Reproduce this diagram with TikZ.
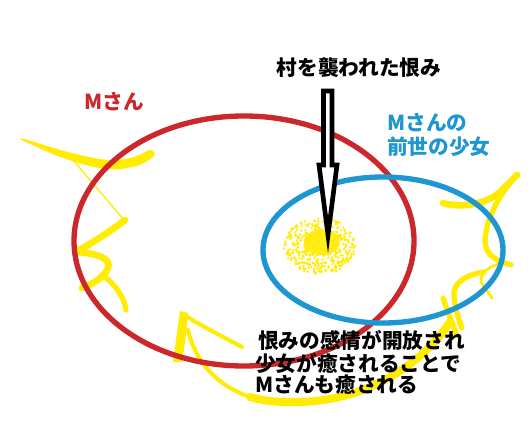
\documentclass[tikz,border=0pt]{standalone}
\usepackage{fontspec}
\setmainfont{Noto Sans CJK JP}
\definecolor{myred}{RGB}{204,40,44}
\definecolor{myblue}{RGB}{30,150,210}
\definecolor{yel}{RGB}{255,236,0}
\begin{document}
\begin{tikzpicture}[x=0.75pt,y=-0.75pt,
  ystroke/.style={draw=yel, line cap=round, line join=round},
  lbl/.style={inner sep=0pt, font=\bfseries\fontsize{15.5}{18}\selectfont},
  ring/.style={line width=4}]
\useasboundingbox (0,0) rectangle (531,427);
\fill[white] (0,0) rectangle (531,427);

% ---- yellow hand strokes (behind ellipses) ----
% top-left
\fill[yel] plot[smooth cycle, tension=0.6] coordinates {(24,139) (68,152) (108,160) (134,157) (150,150) (154,156) (136,166) (106,169) (66,159) (26,142)};
\draw[yel, line width=1] (73,160) -- (124,220);
\draw[ystroke, line width=5] (125,220) .. controls (110,232) and (90,244) .. (76,252);
\draw[ystroke, line width=5] (76,252) .. controls (95,253) and (112,258) .. (108,268) .. controls (104,278) and (92,284) .. (82,288);
\draw[ystroke, line width=4] (104,276) .. controls (115,285) and (124,296) .. (126,310);
% top-right
\draw[ystroke, line width=5] (443,203) .. controls (460,208) and (485,205) .. (500,192) -- (517,175);
\draw[ystroke, line width=4] (514,178) .. controls (500,195) and (487,215) .. (485,240) .. controls (485,252) and (492,258) .. (502,262) -- (511,265);
\draw[ystroke, line width=2] (502,263) .. controls (490,266) and (480,272) .. (481,282) -- (492,298);
\draw[ystroke, line width=4] (484,272) .. controls (470,274) and (456,280) .. (454,292) .. controls (454,305) and (458,318) .. (462,328);
\draw[ystroke, line width=4] (443,298) .. controls (447,310) and (452,322) .. (457,336);
% bottom
\fill[yel] (180,311) -- (188,313) -- (186,335) -- (182,362) -- (173,362) -- (176,340) -- cycle;
\draw[ystroke, line width=3] (186,316) .. controls (200,325) and (225,338) .. (242,347);
\draw[ystroke, line width=3] (188,330) .. controls (195,360) and (215,385) .. (250,397);
\draw[ystroke, line width=6] (250,397) .. controls (270,403) and (300,404) .. (330,399) .. controls (380,390) and (425,360) .. (450,322);

% ---- ellipses ----
\draw[ring, myred] (244,241) ellipse [x radius=170, y radius=125];
\draw[ring, myblue] (383,250) ellipse [x radius=120, y radius=73];

% ---- yellow blob ----
\coordinate (blob) at (320,245);
\fill[yel, opacity=0.85] (322,242) ellipse [x radius=18, y radius=13];
\pgfmathsetseed{7}
\foreach \i in {1,...,450}{
  \pgfmathsetmacro{\ang}{360*rnd}
  \pgfmathsetmacro{\rad}{sqrt(rnd)}
  \pgfmathsetmacro{\px}{320+36*\rad*cos(\ang)}
  \pgfmathsetmacro{\py}{246+28*\rad*sin(\ang)}
  \fill[yel] (\px,\py) circle [radius=1.3];
}

% ---- hollow arrow ----
\coordinate (arrtop) at (327.5,91);
\coordinate (arrtip) at (328,235);
\draw[line width=3.5, fill=white, line join=miter]
  (323.5,91) -- (332,91) -- (332,165) -- (337,165) -- (arrtip) -- (319,165) -- (323.5,165) -- cycle;

% ---- texts ----
\node[lbl, anchor=center] (grudge) at (359,68) {村を襲われた恨み};
\node[lbl, text=myred, anchor=center] (msan) at (114,102) {Mさん};
\node[lbl, text=myblue, anchor=west] (b1) at (387,123) {Mさんの};
\node[lbl, text=myblue, anchor=west] (b2) at (387,147) {前世の少女};
\node[lbl, anchor=west] (t1) at (258,340) {恨みの感情が開放され};
\node[lbl, anchor=west] (t2) at (255,363) {少女が癒されることで};
\node[lbl, anchor=west] (t3) at (255,385) {Mさんも癒される};
\end{tikzpicture}
\end{document}
